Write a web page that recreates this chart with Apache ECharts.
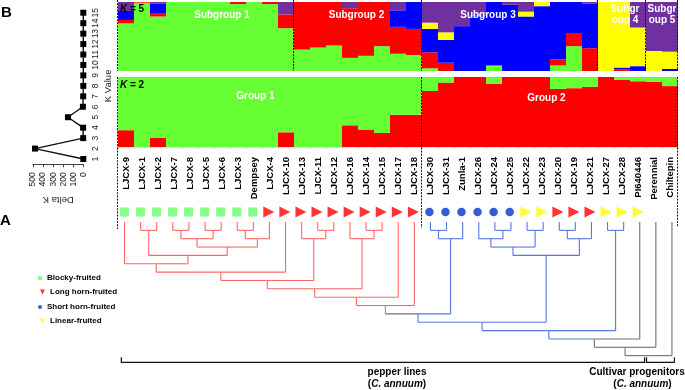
<!DOCTYPE html>
<html>
<head>
<meta charset="utf-8">
<style>html,body{margin:0;padding:0;background:#fff}#c{width:685px;height:390px}</style>
<script src="https://cdn.jsdelivr.net/npm/echarts@6/dist/echarts.min.js"></script>
</head>
<body>
<div id="c"></div>
<script>
// ---- Delta K curve
const kValues = ['1','2','3','4','5','6','7','8','9','10','11','12','13','14','15'];
const deltaK  = [2,480,3,4,154,6,3,2,2,2,2,2,2,2,2];

// ---- accessions, in dendrogram order
const lines = ['LJCX-9','LJCX-1','LJCX-2','LJCX-7','LJCX-8','LJCX-5','LJCX-6','LJCX-3','Dempsey','LJCX-4','LJCX-10',
  'LJCX-13','LJCX-11','LJCX-12','LJCX-16','LJCX-14','LJCX-15','LJCX-17','LJCX-18',
  'LJCX-30','LJCX-31','Zunla-1','LJCX-26','LJCX-24','LJCX-25','LJCX-22','LJCX-23','LJCX-20','LJCX-19','LJCX-21',
  'LJCX-27','LJCX-28','PI640446','Perennial','Chiltepin'];

// ---- K = 5 membership (%), one value per accession
const k5Green  = [69,99,79,100,100,100,100,97,100,97,62,31,34,37,19,22,36,25,23,4,0,0,0,8,0,0,0,8,36,0,0,0,0,0,0];
const k5Red    = [5,1,5,0,0,0,0,3,0,3,20,69,66,63,72,78,64,39,38,23,12,0,0,0,0,0,0,9,18,33,0,2,0,0,0];
const k5Blue   = [13,0,14,0,0,0,0,0,0,0,0,0,0,0,0,0,0,24,39,34,33,65,80,92,96,79,94,83,46,65,0,3,7,0,3];
const k5Yellow = [0,0,0,0,0,0,0,0,0,0,0,0,0,0,0,0,0,0,0,9,11,0,0,0,0,7,6,0,0,0,100,95,56,29,25];
const k5Purple = [13,0,2,0,0,0,0,0,0,0,18,0,0,0,9,0,0,12,0,30,44,35,20,0,4,14,0,0,0,2,0,0,37,71,72];

// ---- K = 2 membership (%)
const k2Red    = [24,0,13,0,0,0,0,0,0,0,21,0,0,0,31,25,20,46,46,80,92,100,100,90,100,100,100,83,84,86,100,96,94,93,87];
const k2Green  = [76,100,87,100,100,100,100,100,100,100,79,100,100,100,69,75,80,54,54,20,8,0,0,10,0,0,0,17,16,14,0,4,6,7,13];

// ---- fruit type of each accession
const blockyLines = lines.slice(0,9);
const longLines   = ['LJCX-4','LJCX-10','LJCX-13','LJCX-11','LJCX-12','LJCX-16','LJCX-14','LJCX-15','LJCX-17','LJCX-18','LJCX-20','LJCX-19','LJCX-21'];
const shortLines  = ['LJCX-30','LJCX-31','Zunla-1','LJCX-26','LJCX-24','LJCX-25'];
const linearLines = ['LJCX-22','LJCX-23','LJCX-27','LJCX-28','PI640446'];

// ---- dendrogram merges: id, left child, right child (name or merge id), height, node colour, left-arm colour, right-arm colour
const merges = [
  ['m0','LJCX-1','LJCX-2',1,'r','r','r'],
  ['m1','LJCX-7','LJCX-8',1,'r','r','r'],
  ['m2','LJCX-5','LJCX-6',1,'r','r','r'],
  ['m3','LJCX-3','Dempsey',1,'r','r','r'],
  ['m4','m1','m2',2,'r','r','r'],
  ['m5','m3','LJCX-4',2,'r','r','r'],
  ['m6','m4','m5',3,'r','r','r'],
  ['m7','m0','m6',4,'r','r','r'],
  ['m8','LJCX-9','m7',5,'r','r','r'],
  ['m9','m8','LJCX-10',6,'r','r','r'],
  ['m10','LJCX-11','LJCX-12',1,'r','r','r'],
  ['m11','LJCX-13','m10',2,'r','r','r'],
  ['m12','m9','m11',7,'r','r','r'],
  ['m13','LJCX-14','LJCX-15',1,'r','r','r'],
  ['m14','LJCX-16','m13',2,'r','r','r'],
  ['m15','m12','m14',8,'r','r','r'],
  ['m16','m15','LJCX-17',9,'r','r','r'],
  ['m17','m16','LJCX-18',10,'r','r','r'],
  ['m18','LJCX-30','LJCX-31',1,'b','b','b'],
  ['m19','m18','Zunla-1',2,'b','b','b'],
  ['m20','m17','m19',11,'b','g','b'],
  ['m21','LJCX-24','LJCX-25',1,'b','b','b'],
  ['m22','LJCX-26','m21',2,'b','b','b'],
  ['m23','LJCX-22','LJCX-23',1,'b','b','b'],
  ['m24','m22','m23',3,'b','b','b'],
  ['m25','LJCX-20','LJCX-19',1,'b','b','b'],
  ['m26','m25','LJCX-21',2,'b','b','b'],
  ['m27','m24','m26',4,'b','b','b'],
  ['m28','m20','m27',12,'b','b','b'],
  ['m29','LJCX-27','LJCX-28',1,'b','b','b'],
  ['m30','m28','m29',13,'b','b','b'],
  ['m31','m30','PI640446',14,'g','b','g'],
  ['m32','m31','Perennial',15,'g','g','g'],
  ['m33','m32','Chiltepin',16,'g','g','g']
];
const leafColourKeys = {'PI640446':'g','Perennial':'g','Chiltepin':'g'};
const redLeafEnd = 19;

// ---- brackets under the tree: first leaf position, last leaf position
const bracketSpans = [[-0.2,32.3],[32.42,34.15]];
// ---- dashed separators: boundary position (in accessions), and vertical span
const separators = [[0,0,71],[11,0,71],[19,0,71],[30,0,71],[33,0,71],[35,0,71],[0,77,229],[19,77,228],[35,77,227]];

const GREEN='#66ff33',RED='#ff0000',BLUE='#0000ff',YELLOW='#ffff00',PURPLE='#7030a0';
const treeColours={r:'#ff6666',b:'#5578e0',g:'#6e6e6e'};
const FONT='"Liberation Sans",Arial,sans-serif';

// resolve tree positions
const pos={};
lines.forEach((n,i)=>{pos[n]={x:i,h:0,c:leafColourKeys[n]||(i<redLeafEnd?'r':'b')};});
const colourKeys=['r','b','g'];
const treeData=[];
merges.forEach(m=>{
  const L=pos[m[1]],R=pos[m[2]];
  pos[m[0]]={x:(L.x+R.x)/2,h:m[3],c:m[4]};
  treeData.push([L.x,R.x,m[3],L.h,R.h,colourKeys.indexOf(L.c),colourKeys.indexOf(R.c),colourKeys.indexOf(m[5]),colourKeys.indexOf(m[6])]);
});

const gridLeft=118,gridW=560;
const hiddenCat=(gi)=>({type:'category',gridIndex:gi,data:lines,show:false});
const hiddenVal=(gi,extra)=>Object.assign({type:'value',gridIndex:gi,show:false},extra);

const stack=(name,data,color,axis,st)=>({name,type:'bar',xAxisIndex:axis,yAxisIndex:axis,stack:st,data,barWidth:'100%',itemStyle:{color},silent:true,legendHoverLink:false});

const markerSeries=(name,data,symbol,size,rotate,color)=>({name,type:'scatter',xAxisIndex:3,yAxisIndex:3,symbol,symbolSize:size,symbolRotate:rotate,itemStyle:{color},data:data.map(n=>[n,0])});

const ICON_DOWN='path://M0 0L10 0L5 10Z';
const legendText={color:'#000',fontFamily:FONT,fontWeight:'bold',fontSize:8};
const oneLegend=(name,icon,left,top,w,h)=>({data:[{name,icon}],left,top,itemWidth:w,itemHeight:h,padding:0,orient:'vertical',selectedMode:false,textStyle:legendText});

const label=(text,x,y,opts)=>({type:'text',x,y,z:100,style:Object.assign({text,fill:'#fff',fontFamily:FONT,fontWeight:'bold',fontSize:10,align:'center',verticalAlign:'middle'},opts||{})});
const kLabel=(n,y)=>({type:'text',x:120,y,z:100,style:{text:'{i|K}{b| = '+n+'}',fontFamily:FONT,verticalAlign:'middle',rich:{i:{fontStyle:'italic',fontWeight:'bold',fontSize:10,fontFamily:FONT,fill:'#000'},b:{fontWeight:'bold',fontSize:10,fontFamily:FONT,fill:'#000'}}}});
const annuum=(x,y)=>({type:'text',x,y,z:100,style:{text:'{b|(}{i|C. annuum}{b|)}',align:'center',verticalAlign:'middle',rich:{i:{fontStyle:'italic',fontWeight:'bold',fontSize:10,fontFamily:FONT,fill:'#000'},b:{fontWeight:'bold',fontSize:10,fontFamily:FONT,fill:'#000'}}}});

const option={
  animation:false,
  backgroundColor:'#fff',
  grid:[
    {left:33,width:50.5,top:7.5,height:156.75},
    {left:gridLeft,width:gridW,top:2,height:69},
    {left:gridLeft,width:gridW,top:77,height:70},
    {left:116.3,width:562,top:205,height:14},
    {left:116.5,width:563.5,top:222,height:142},
    {left:gridLeft,width:gridW,top:0,height:229}
  ],
  xAxis:[
    {type:'value',gridIndex:0,inverse:true,min:0,max:500,interval:100,position:'bottom',
     name:'Delta K',nameLocation:'middle',nameGap:30,nameRotate:180,nameTextStyle:{fontFamily:FONT,fontSize:9.5,color:'#222'},
     splitLine:{show:false},axisLine:{show:true,lineStyle:{color:'#444',width:1}},axisTick:{show:true,length:3,lineStyle:{color:'#444'}},
     axisLabel:{rotate:90,margin:8,fontFamily:FONT,fontSize:8.5,color:'#222',showMinLabel:true,showMaxLabel:true}},
    hiddenCat(1),
    {type:'category',gridIndex:2,data:lines,position:'bottom',
     axisLine:{show:true,lineStyle:{color:'#ddd'}},axisTick:{show:true,length:2,lineStyle:{color:'#ccc'},alignWithLabel:false},
     axisLabel:{interval:0,rotate:90,margin:10,fontFamily:FONT,fontWeight:'bold',fontSize:9.5,color:'#000'}},
    hiddenCat(3),
    hiddenVal(4,{min:-0.5,max:34.5}),
    hiddenVal(5,{min:0,max:35})
  ],
  yAxis:[
    {type:'category',gridIndex:0,data:kValues,position:'right',
     name:'K Value',nameLocation:'middle',nameGap:20,nameRotate:90,nameTextStyle:{fontFamily:FONT,fontSize:9.5,color:'#222'},
     axisLine:{show:false},axisTick:{show:false},
     axisLabel:{interval:0,rotate:90,margin:8,fontFamily:FONT,fontSize:8.5,color:'#222'}},
    hiddenVal(1,{min:0,max:100}),
    hiddenVal(2,{min:0,max:100}),
    hiddenVal(3,{min:-1,max:1}),
    hiddenVal(4,{min:0,max:17,inverse:true}),
    hiddenVal(5,{min:0,max:229,inverse:true})
  ],
  legend:[
    oneLegend('Blocky-fruited','rect',38,274,4,4),
    oneLegend('Long horn-fruited',ICON_DOWN,40,288,5,5),
    oneLegend('Short horn-fruited','circle',38,303,4,4),
    oneLegend('Linear-fruited',ICON_DOWN,40,317,5,5)
  ],
  series:[
    {name:'Delta K',type:'line',xAxisIndex:0,yAxisIndex:0,data:deltaK,symbol:'rect',symbolSize:6,
     lineStyle:{color:'#111',width:1.4},itemStyle:{color:'#000'}},
    stack('k5 green',k5Green,GREEN,1,'k5'),
    stack('k5 red',k5Red,RED,1,'k5'),
    stack('k5 blue',k5Blue,BLUE,1,'k5'),
    stack('k5 yellow',k5Yellow,YELLOW,1,'k5'),
    stack('k5 purple',k5Purple,PURPLE,1,'k5'),
    stack('k2 red',k2Red,RED,2,'k2'),
    stack('k2 green',k2Green,GREEN,2,'k2'),
    markerSeries('Blocky-fruited',blockyLines,'rect',9,0,'#66ff66'),
    markerSeries('Long horn-fruited',longLines,'triangle',11,-90,'#ff0000'),
    markerSeries('Short horn-fruited',shortLines,'circle',8.5,0,'#0033cc'),
    markerSeries('Linear-fruited',linearLines,'triangle',11,-90,'#ffff00'),
    {type:'custom',name:'tree',xAxisIndex:4,yAxisIndex:4,clip:false,silent:true,data:treeData,
     renderItem(params,api){
       const xl=api.value(0),xr=api.value(1),h=api.value(2),hl=api.value(3),hr=api.value(4);
       const cL=treeColours[colourKeys[api.value(5)]],cR=treeColours[colourKeys[api.value(6)]],
             aL=treeColours[colourKeys[api.value(7)]],aR=treeColours[colourKeys[api.value(8)]];
       const mid=(xl+xr)/2;
       const P=(x,y)=>api.coord([x,y]);
       const seg=(a,b,c)=>({type:'line',shape:{x1:a[0],y1:a[1],x2:b[0],y2:b[1]},style:{stroke:c,lineWidth:1.1,fill:null}});
       return {type:'group',children:[
         seg(P(xl,hl),P(xl,h),cL),
         seg(P(xr,hr),P(xr,h),cR),
         seg(P(xl,h),P(mid,h),aL),
         seg(P(mid,h),P(xr,h),aR)
       ]};
     }},
    {type:'custom',name:'brackets',xAxisIndex:4,yAxisIndex:4,clip:false,silent:true,data:bracketSpans,
     renderItem(params,api){
       const a=api.coord([api.value(0),16.8]),b=api.coord([api.value(1),16.8]),
             a0=api.coord([api.value(0),16.2]),b0=api.coord([api.value(1),16.2]);
       return {type:'polyline',shape:{points:[a0,a,b,b0]},style:{stroke:'#111',lineWidth:1.2,fill:null}};
     }},
    {type:'custom',name:'separators',xAxisIndex:5,yAxisIndex:5,clip:false,silent:true,z:50,data:separators,
     renderItem(params,api){
       const a=api.coord([api.value(0),api.value(1)]),b=api.coord([api.value(0),api.value(2)]);
       return {type:'line',shape:{x1:a[0]-0.5,y1:a[1],x2:a[0]-0.5,y2:b[1]},style:{stroke:'#111',lineWidth:1,lineDash:[2,1.2],fill:null}};
     }}
  ],
  graphic:[
    label('B',1,13,{fill:'#000',fontSize:15,align:'left'}),
    label('A',0,221,{fill:'#000',fontSize:15,align:'left'}),
    kLabel(5,9.5),
    kLabel(2,85),
    label('Subgroup 1',222,15),
    label('Subgroup 2',356.5,15),
    label('Subgroup 3',488,15),
    label('Group 1',255.5,96),
    label('Group 2',546.5,98.5),
    label('Subgr',625,9),
    label('oup 4',625,20.5),
    label('Subgr',662,9),
    label('oup 5',662,20.5),
    label('pepper lines',397,372.7,{fill:'#000'}),
    annuum(397,384.7),
    label('Cultivar progenitors',637,372.7,{fill:'#000'}),
    annuum(642.5,384.7)
  ]
};
const chart=echarts.init(document.getElementById('c'),null,{renderer:'canvas',width:685,height:390});
chart.setOption(option);
</script>
</body>
</html>
